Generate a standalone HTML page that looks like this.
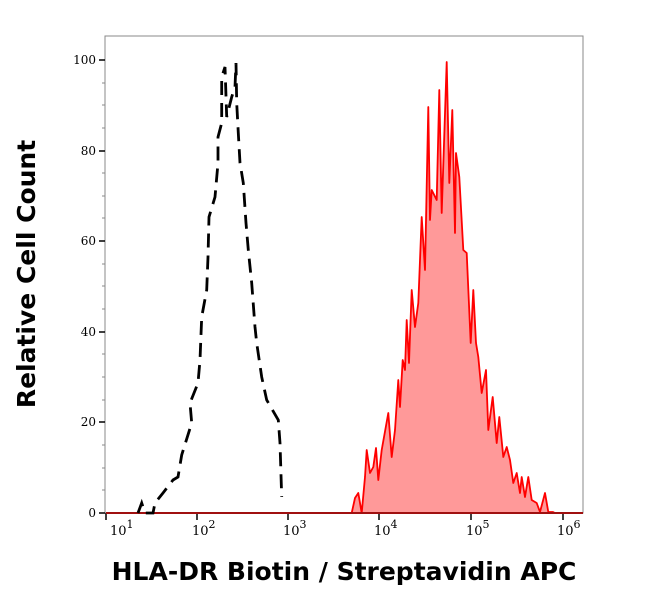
<!DOCTYPE html>
<html><head><style>body{margin:0;background:#fff}svg{display:block}</style></head><body>
<svg width="650" height="598" xmlns="http://www.w3.org/2000/svg" font-family="DejaVu Serif, Liberation Serif, serif">
<rect x="105" y="36" width="478" height="477" fill="none" stroke="#888" stroke-width="1"/>
<g stroke="#000" stroke-width="1.5">
<line x1="99" y1="60" x2="105" y2="60"/><line x1="99" y1="151" x2="105" y2="151"/><line x1="99" y1="241" x2="105" y2="241"/><line x1="99" y1="332" x2="105" y2="332"/><line x1="99" y1="422" x2="105" y2="422"/><line x1="99" y1="513" x2="105" y2="513"/>
</g>
<g stroke="#888" stroke-width="1">
<line x1="102" y1="83" x2="105" y2="83"/><line x1="102" y1="105" x2="105" y2="105"/><line x1="102" y1="128" x2="105" y2="128"/>
<line x1="102" y1="173" x2="105" y2="173"/><line x1="102" y1="196" x2="105" y2="196"/><line x1="102" y1="218" x2="105" y2="218"/>
<line x1="102" y1="264" x2="105" y2="264"/><line x1="102" y1="286" x2="105" y2="286"/><line x1="102" y1="309" x2="105" y2="309"/>
<line x1="102" y1="354" x2="105" y2="354"/><line x1="102" y1="377" x2="105" y2="377"/><line x1="102" y1="400" x2="105" y2="400"/>
<line x1="102" y1="445" x2="105" y2="445"/><line x1="102" y1="468" x2="105" y2="468"/><line x1="102" y1="490" x2="105" y2="490"/>
</g>
<g font-size="12" text-anchor="end" fill="#000">
<text x="96" y="64">100</text><text x="96" y="155">80</text><text x="96" y="245">60</text><text x="96" y="336">40</text><text x="96" y="426">20</text><text x="96" y="517">0</text>
</g>
<g stroke="#000" stroke-width="1.5">
<line x1="106" y1="513" x2="106" y2="520"/><line x1="197" y1="513" x2="197" y2="520"/><line x1="288" y1="513" x2="288" y2="520"/><line x1="379" y1="513" x2="379" y2="520"/><line x1="471" y1="513" x2="471" y2="520"/><line x1="563" y1="513" x2="563" y2="520"/>
</g>
<g font-size="13" fill="#000">
<text x="110" y="535">10<tspan dy="-7" font-size="11">1</tspan></text>
<text x="192" y="535">10<tspan dy="-7" font-size="11">2</tspan></text>
<text x="283" y="535">10<tspan dy="-7" font-size="11">3</tspan></text>
<text x="374" y="535">10<tspan dy="-7" font-size="11">4</tspan></text>
<text x="466" y="535">10<tspan dy="-7" font-size="11">5</tspan></text>
<text x="557" y="535">10<tspan dy="-7" font-size="11">6</tspan></text>
</g>
<path d="M351.7,513 L355,498 L358.3,493 L361.7,513 L365,477 L366.7,450 L370,473 L373.3,467 L376,448 L378.3,480 L381.7,450 L388.3,413 L391.7,457 L395,430 L398.3,380 L400,407 L402.7,360 L405,370 L406.7,320 L409,363 L411.7,290 L415,327 L418.3,303 L421.7,217 L425,270 L428.3,107 L430,220 L431.7,190 L436.7,200 L439.3,90 L441.7,213 L446.7,62 L449.3,183 L452.3,110 L455,233 L456,153 L459.3,177 L463.3,250 L466.7,253 L470.7,343 L473.3,290 L476,343 L478.3,357 L481.7,393 L486,370 L488.3,430 L492.7,397 L496.7,443 L499.3,417 L503.3,457 L506.7,447 L510,460 L513.3,483 L516.7,473 L520,493 L521.7,477 L525,497 L528.3,477 L531.7,500 L536.7,503 L540,512 L545,493 L548.3,512 L553,512 L555,513 Z" fill="#ff9999" stroke="#ff0000" stroke-width="1.8" stroke-linejoin="round"/>
<line x1="106" y1="513" x2="583" y2="513" stroke="#a01010" stroke-width="2"/>
<path d="M138,513 L141.7,503 L145,513 L153,513 L155,503 L163,493 L173,480 L178,477 L181.7,455 L191.7,423 L190,403 L198,383 L200,360 L201.7,317 L206.7,290 L208,257 L209,217 L215,197 L218,163 L218,137 L221.7,123 L221.7,77 L225,67 L226.7,117 L231.7,97 L235,87 L236,63 L236.7,103 L238.3,133 L240,163 L243.3,183 L246,223 L248.3,250 L251.7,283 L255,327 L256.7,343 L261.7,377 L266.7,400 L278.3,420 L280,443 L281.7,497" fill="none" stroke="#000" stroke-width="2.8" stroke-dasharray="14,8"/>
<text x="35" y="274" font-family="DejaVu Sans, Liberation Sans, sans-serif" font-size="25" font-weight="bold" text-anchor="middle" transform="rotate(-90 35 274)">Relative Cell Count</text>
<text x="344" y="580" font-family="DejaVu Sans, Liberation Sans, sans-serif" font-size="25" font-weight="bold" text-anchor="middle">HLA-DR Biotin / Streptavidin APC</text>
</svg>
</body></html>
